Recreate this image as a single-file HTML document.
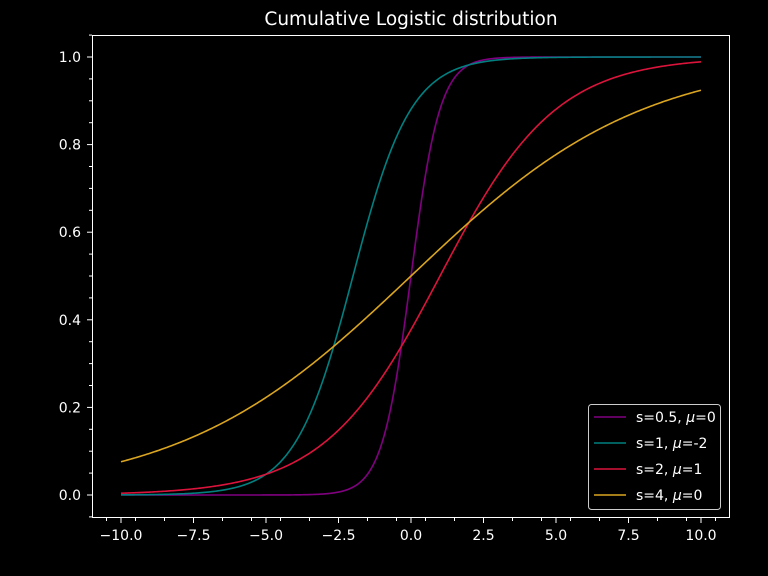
<!DOCTYPE html>
<html><head><meta charset="utf-8"><style>
body{margin:0;background:#000}
svg{display:block;font-family:"DejaVu Sans","Liberation Sans",sans-serif}
</style></head><body>
<svg id="chart" width="768" height="576">
<rect width="768" height="576" fill="#000"/>
<text x="411" y="25" fill="#fff" font-size="18.5" text-anchor="middle">Cumulative Logistic distribution</text>
<g id="plot"></g>
</svg>
<script>
const scales=[0.5,1,2,4];
const locs=[0,-2,1,0];
const colors=["#800080","#008080","#dc143c","#daa520"];
const labelPre=["s=0.5, ","s=1, ","s=2, ","s=4, "];
const labelPost=["=0","=-2","=1","=0"];
const xTicks=[-10,-7.5,-5,-2.5,0,2.5,5,7.5,10];
const xTickLabels=["−10.0","−7.5","−5.0","−2.5","0.0","2.5","5.0","7.5","10.0"];
const yTicks=[0,0.2,0.4,0.6,0.8,1.0];
const yTickLabels=["0.0","0.2","0.4","0.6","0.8","1.0"];
const X=v=>411+v*29, Y=v=>495-v*438;
const NS="http://www.w3.org/2000/svg";
const g=document.getElementById('plot');
function mk(t,a,par){const e=document.createElementNS(NS,t);for(const k in a)e.setAttribute(k,a[k]);(par||g).appendChild(e);return e;}
scales.forEach((s,i)=>{
  let d="";
  for(let k=0;k<=400;k++){const x=-10+k*20/400;const y=1/(1+Math.exp(-(x-locs[i])/s));d+=(k?"L":"M")+X(x).toFixed(2)+","+Y(y).toFixed(2);}
  const p=mk('path',{d:d,fill:"none",stroke:colors[i],"stroke-width":1.6});
  
  
});
const fr=mk('rect',{x:92.5,y:35.5,width:637,height:482,fill:"none",stroke:"#fff","stroke-width":1});


xTicks.forEach((v,i)=>{
  mk('line',{x1:X(v),x2:X(v),y1:518,y2:523,stroke:"#fff"});
  const t=mk('text',{x:X(v),y:540,fill:"#fff","font-size":14,"text-anchor":"middle"});t.textContent=xTickLabels[i];
  
  
});
for(let v=-10.5;v<=10.6;v+=1){mk('line',{x1:X(v),x2:X(v),y1:518,y2:521,stroke:"#fff"});}
yTicks.forEach((v,i)=>{
  mk('line',{x1:87,x2:92,y1:Y(v),y2:Y(v),stroke:"#fff"});
  const t=mk('text',{x:81,y:Y(v)+5,fill:"#fff","font-size":14,"text-anchor":"end"});t.textContent=yTickLabels[i];
  
  
});
for(let v=-0.05;v<=1.06;v+=0.05){if(Math.abs(Math.round(v*5)-v*5)>0.01)mk('line',{x1:89,x2:92,y1:Y(v),y2:Y(v),stroke:"#fff"});}
const lg=mk('rect',{x:588.5,y:404.5,width:132,height:105,rx:3,fill:"#000",stroke:"#ccc","fill-opacity":0.8});


labelPre.forEach((l,i)=>{
  const y=417+i*26;
  mk('line',{x1:594,x2:626,y1:y,y2:y,stroke:colors[i],"stroke-width":1.6});
  const t=mk('text',{x:636,y:y+5,fill:"#fff","font-size":14});
  
  
  const a=mk('tspan',{},t);a.textContent=l;
  const m=mk('tspan',{"font-style":"italic"},t);m.textContent="μ";
  const b=mk('tspan',{},t);b.textContent=labelPost[i];
});
</script>
</body></html>
